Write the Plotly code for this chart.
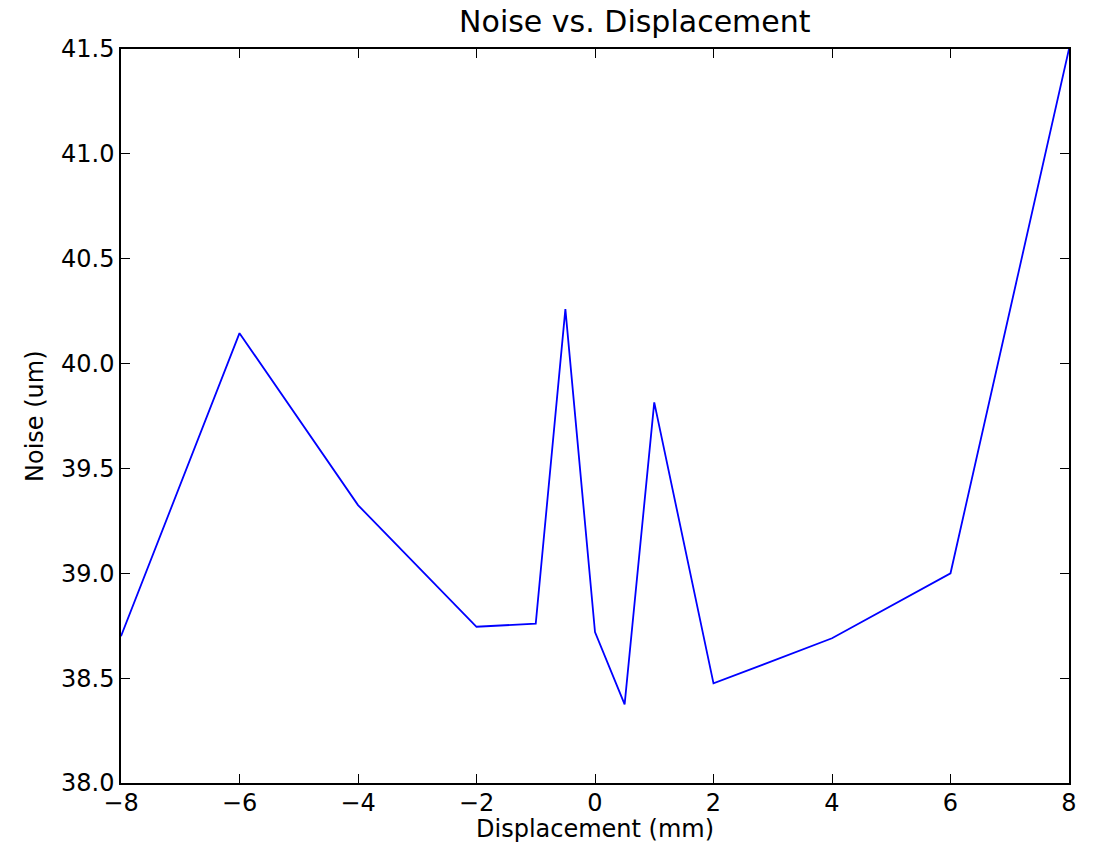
import plotly.graph_objects as go

displacement = [-8, -6, -4, -2, -1, -0.5, 0, 0.5, 1, 2, 4, 6, 8]
noise = [38.70, 40.145, 39.325, 38.745, 38.76, 40.26, 38.72, 38.375, 39.815, 38.475, 38.69, 39.0, 41.5]
x_ticks = [-8, -6, -4, -2, 0, 2, 4, 6, 8]
x_tick_labels = ["\u22128", "\u22126", "\u22124", "\u22122", "0", "2", "4", "6", "8"]
y_ticks = [38.0, 38.5, 39.0, 39.5, 40.0, 40.5, 41.0, 41.5]

W, H = 1083, 836  # page body adds an 8px offset

fig = go.Figure()
fig.add_trace(go.Scatter(x=displacement, y=noise, mode="lines",
                         line=dict(color="#0000ff", width=1.8), showlegend=False))

fig.update_layout(
    width=W, height=H,
    margin=dict(l=113, r=22, t=41, b=61),
    paper_bgcolor="white", plot_bgcolor="white",
    font=dict(family="DejaVu Sans", size=24, color="black"),
    title=dict(text="Noise vs. Displacement", x=(113 + 1061) / 2 / W, xanchor="center",
               xref="paper", y=1 - 13 / H, yanchor="middle",
               font=dict(family="DejaVu Sans", size=30), automargin=False),
    xaxis=dict(range=[-8, 8], tickvals=x_ticks, ticktext=x_tick_labels,
               ticks="inside", ticklen=9, tickwidth=1, tickcolor="black",
               showline=True, linecolor="black", linewidth=1.5, mirror="ticks",
               showgrid=False, zeroline=False, tickfont=dict(size=24),
               ticklabelstandoff=-3, automargin=False),
    yaxis=dict(range=[38.0, 41.5], tickvals=y_ticks, tickformat=".1f",
               ticks="inside", ticklen=9, tickwidth=1, tickcolor="black",
               showline=True, linecolor="black", linewidth=1.5, mirror="ticks",
               showgrid=False, zeroline=False, tickfont=dict(size=24),
               automargin=False),
    annotations=[
        dict(text="Displacement (mm)", xref="paper", yref="paper", x=0.5, y=0,
             xanchor="center", yanchor="middle", yshift=-46, showarrow=False,
             font=dict(size=24)),
        dict(text="Noise (um)", xref="paper", yref="paper", x=0, y=0.5,
             xanchor="center", yanchor="middle", xshift=-86, textangle=-90,
             showarrow=False, font=dict(size=24)),
    ],
)
fig.write_html("out.html")
